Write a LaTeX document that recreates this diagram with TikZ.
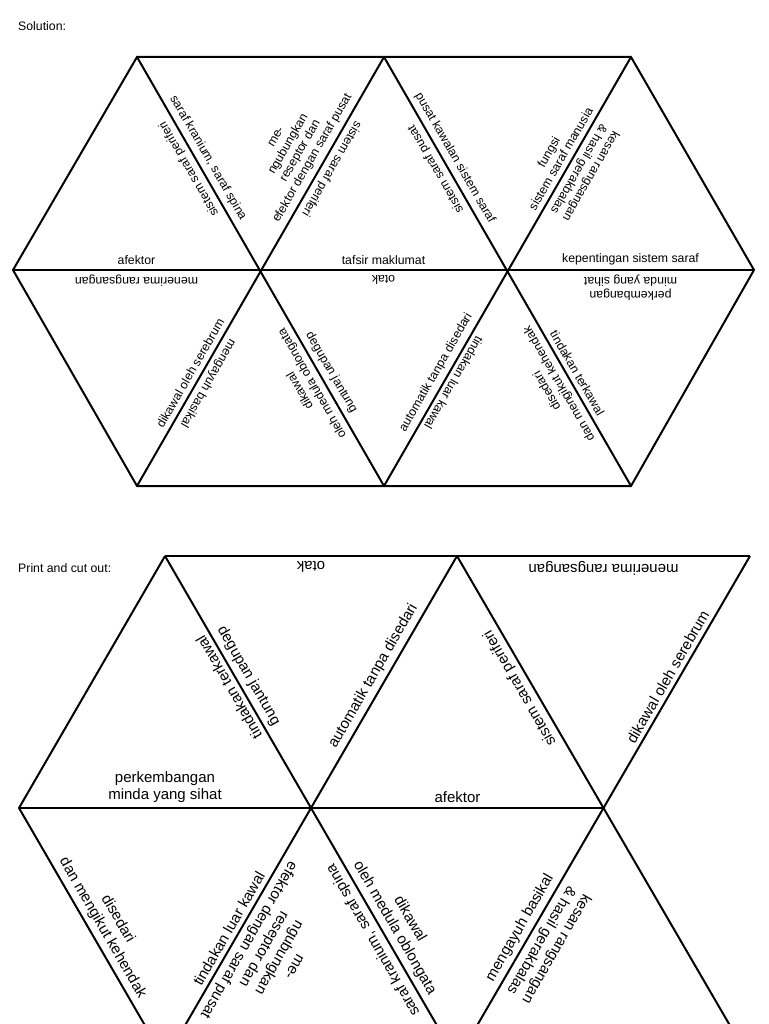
\documentclass[tikz,border=0pt]{standalone}
\usepackage{fontspec}
\setmainfont{Liberation Sans}
\usetikzlibrary{calc}
\tikzset{
  edge/.style={line width=2pt,line join=miter},
  smalllab/.style={font=\fontsize{12.3}{14}\selectfont,inner sep=0pt,align=center},
  biglab/.style={font=\fontsize{15}{17.5}\selectfont,inner sep=0pt,align=center}
}
\newcommand\et[7]{\coordinate (m#6) at ($(#2)!0.5!(#3)$);
  \node[#1,rotate=#5,anchor=south] (#6) at ($(m#6)!5pt!(#4)$) {#7};}
\begin{document}
\begin{tikzpicture}[x=1pt,y=-1pt]
\fill[white] (0,0) rectangle (768,1024);
\useasboundingbox (0,0) rectangle (768,1024);
\clip (0,0) rectangle (768,1024);
\node[smalllab,anchor=west] (sol) at (18,26) {Solution:};
\node[smalllab,anchor=west] (pc) at (18,568) {Print and cut out:};
% top hexagon
\coordinate (a1) at (137,57); \coordinate (a2) at (384,57); \coordinate (a3) at (631,57);
\coordinate (b0) at (13,270); \coordinate (b1) at (260,270); \coordinate (b2) at (507,270); \coordinate (b3) at (754,270);
\coordinate (c1) at (137,486); \coordinate (c2) at (384,486); \coordinate (c3) at (631,486);
\draw[edge] (a1)--(a3)--(b3)--(c3)--(c1)--(b0)--cycle;
\draw[edge] (b0)--(b3);
\draw[edge] (a1)--(c2); \draw[edge] (a2)--(c1);
\draw[edge] (a2)--(c3); \draw[edge] (a3)--(c2);
% labels top strip
\et{smalllab}{b0}{b1}{a1}{0}{t1}{afektor}
\et{smalllab}{b1}{a1}{b0}{120}{t2}{sistem saraf periferi}
\et{smalllab}{a1}{b1}{a2}{-60}{t3}{saraf kranium, saraf spina}
\et{smalllab}{a2}{b1}{a1}{60}{t4}{me-\\ngubungkan\\reseptor dan\\efektor dengan saraf pusat}
\et{smalllab}{b1}{a2}{b2}{-120}{t5}{sistem saraf periferi}
\et{smalllab}{b1}{b2}{a2}{0}{t6}{tafsir maklumat}
\et{smalllab}{b2}{a2}{b1}{120}{t7}{sistem saraf pusat}
\et{smalllab}{a2}{b2}{a3}{-60}{t8}{pusat kawalan sistem saraf}
\et{smalllab}{a3}{b2}{a2}{60}{t9}{fungsi\\sistem saraf manusia}
\et{smalllab}{b2}{a3}{b3}{-120}{t10}{kesan rangsangan\\\& hasil gerakbalas}
\et{smalllab}{b2}{b3}{a3}{0}{t11}{kepentingan sistem saraf}
% labels bottom strip
\et{smalllab}{b0}{b1}{c1}{180}{u1}{menerima rangsangan}
\et{smalllab}{b1}{c1}{b0}{60}{u2}{dikawal oleh serebrum}
\et{smalllab}{c1}{b1}{c2}{-120}{u3}{mengayuh basikal}
\et{smalllab}{c2}{b1}{c1}{120}{u4}{dikawal\\oleh medula oblongata}
\et{smalllab}{b1}{b2}{c2}{180}{u5}{otak}
\et{smalllab}{b1}{c2}{b2}{-60}{u6}{degupan jantung}
\et{smalllab}{b2}{c2}{b1}{60}{u7}{automatik tanpa disedari}
\et{smalllab}{c2}{b2}{c3}{-120}{u8}{tindakan luar kawal}
\et{smalllab}{c3}{b2}{c2}{120}{u9}{disedari\\dan mengikut kehendak}
\et{smalllab}{b2}{b3}{c3}{180}{u10}{perkembangan\\minda yang sihat}
\et{smalllab}{b2}{c3}{b3}{-60}{u11}{tindakan terkawal}
% cut-out section
\coordinate (p1) at (165,556); \coordinate (p2) at (457,556); \coordinate (p3) at (750,556);
\coordinate (q0) at (19,808); \coordinate (q1) at (311,808); \coordinate (q2) at (604,808);
\coordinate (r1) at (165,1060); \coordinate (r2) at (457,1060); \coordinate (r3) at (750,1060);
\draw[edge] (p1)--(p3); \draw[edge] (q0)--(q2);
\draw[edge] (r1)--(q0)--(p1);
\draw[edge] (p1)--(r2); \draw[edge] (p2)--(r1);
\draw[edge] (p2)--(r3); \draw[edge] (p3)--(r2);
\et{biglab}{q0}{q1}{p1}{0}{v1}{perkembangan\\minda yang sihat}
\et{biglab}{q1}{p1}{q0}{120}{v2}{tindakan terkawal}
\et{biglab}{p1}{p2}{q1}{180}{v3}{otak}
\et{biglab}{p1}{q1}{p2}{-60}{v4}{degupan jantung}
\et{biglab}{p2}{q1}{p1}{60}{v5}{automatik tanpa disedari}
\et{biglab}{q1}{q2}{p2}{0}{v6}{afektor}
\et{biglab}{q2}{p2}{q1}{120}{v7}{sistem saraf periferi}
\et{biglab}{p2}{p3}{q2}{180}{v8}{menerima rangsangan}
\et{biglab}{p3}{q2}{p2}{60}{v9}{dikawal oleh serebrum}
\et{biglab}{q0}{r1}{q1}{-60}{w1}{disedari\\dan mengikut kehendak}
\et{biglab}{q1}{r1}{q0}{60}{w2}{tindakan luar kawal}
\et{biglab}{r1}{q1}{r2}{-120}{w3}{me-\\ngubungkan\\reseptor dan\\efektor dengan saraf pusat}
\et{biglab}{r2}{q1}{r1}{120}{w4}{saraf kranium, saraf spina}
\et{biglab}{q1}{r2}{q2}{-60}{w5}{dikawal\\oleh medula oblongata}
\et{biglab}{q2}{r2}{q1}{60}{w6}{mengayuh basikal}
\et{biglab}{r2}{q2}{r3}{-120}{w7}{kesan rangsangan\\\& hasil gerakbalas}
\end{tikzpicture}
\end{document}
